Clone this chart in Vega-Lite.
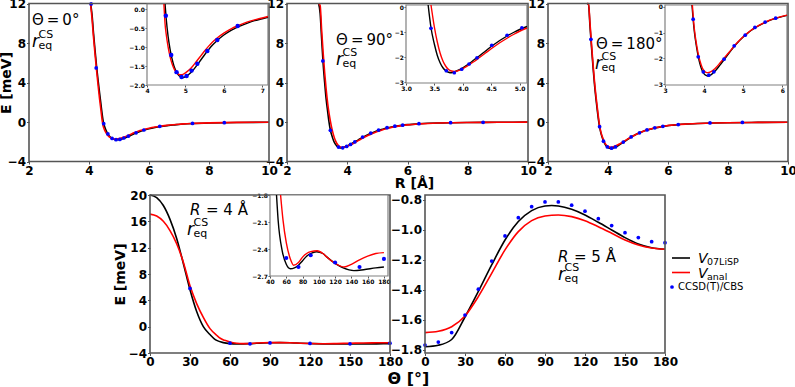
{
"$schema": "https://vega.github.io/schema/vega-lite/v6.json",
"width": 795, "height": 387,
"autosize": {"type": "none"},
"padding": 0,
"datasets": {
"d0": [
{"s":"k","x":4.05,"y":12.9},{"s":"k","x":4.1,"y":10.9},{"s":"k","x":4.15,"y":9.0},{"s":"k","x":4.2,"y":7.3},{"s":"k","x":4.25,"y":5.7},{"s":"k","x":4.3,"y":4.3},{"s":"k","x":4.35,"y":3.0},{"s":"k","x":4.4,"y":1.75},{"s":"k","x":4.45,"y":0.55},{"s":"k","x":4.47,"y":0.14},{"s":"k","x":4.5,"y":-0.25},{"s":"k","x":4.55,"y":-0.72},{"s":"k","x":4.6,"y":-1.05},{"s":"k","x":4.65,"y":-1.3},{"s":"k","x":4.7,"y":-1.49},{"s":"k","x":4.75,"y":-1.62},{"s":"k","x":4.8,"y":-1.71},{"s":"k","x":4.85,"y":-1.77},{"s":"k","x":4.9,"y":-1.8},{"s":"k","x":4.95,"y":-1.8},{"s":"k","x":5.0,"y":-1.78},{"s":"k","x":5.05,"y":-1.75},{"s":"k","x":5.1,"y":-1.71},{"s":"k","x":5.2,"y":-1.61},{"s":"k","x":5.3,"y":-1.48},{"s":"k","x":5.4,"y":-1.34},{"s":"k","x":5.5,"y":-1.2},{"s":"k","x":5.6,"y":-1.07},{"s":"k","x":5.7,"y":-0.95},{"s":"k","x":5.8,"y":-0.85},{"s":"k","x":6.0,"y":-0.68},{"s":"k","x":6.2,"y":-0.55},{"s":"k","x":6.4,"y":-0.45},{"s":"k","x":6.6,"y":-0.37},{"s":"k","x":6.8,"y":-0.3},{"s":"k","x":7.0,"y":-0.25},{"s":"k","x":7.15,"y":-0.21},{"s":"k","x":7.5,"y":-0.15},{"s":"k","x":8.0,"y":-0.1},{"s":"k","x":8.5,"y":-0.07},{"s":"k","x":9.0,"y":-0.05},{"s":"k","x":10.0,"y":-0.02},
{"s":"r","x":4.05,"y":12.6},{"s":"r","x":4.1,"y":10.5},{"s":"r","x":4.15,"y":8.6},{"s":"r","x":4.2,"y":6.9},{"s":"r","x":4.25,"y":5.3},{"s":"r","x":4.3,"y":3.8},{"s":"r","x":4.35,"y":2.4},{"s":"r","x":4.4,"y":1.15},{"s":"r","x":4.44,"y":0.14},{"s":"r","x":4.47,"y":-0.38},{"s":"r","x":4.5,"y":-0.66},{"s":"r","x":4.55,"y":-1.0},{"s":"r","x":4.6,"y":-1.25},{"s":"r","x":4.65,"y":-1.43},{"s":"r","x":4.7,"y":-1.56},{"s":"r","x":4.75,"y":-1.65},{"s":"r","x":4.8,"y":-1.7},{"s":"r","x":4.85,"y":-1.73},{"s":"r","x":4.9,"y":-1.73},{"s":"r","x":4.95,"y":-1.71},{"s":"r","x":5.0,"y":-1.68},{"s":"r","x":5.1,"y":-1.6},{"s":"r","x":5.2,"y":-1.49},{"s":"r","x":5.3,"y":-1.36},{"s":"r","x":5.4,"y":-1.23},{"s":"r","x":5.5,"y":-1.1},{"s":"r","x":5.6,"y":-0.98},{"s":"r","x":5.7,"y":-0.87},{"s":"r","x":5.8,"y":-0.78},{"s":"r","x":6.0,"y":-0.63},{"s":"r","x":6.2,"y":-0.51},{"s":"r","x":6.4,"y":-0.42},{"s":"r","x":6.6,"y":-0.34},{"s":"r","x":6.8,"y":-0.28},{"s":"r","x":7.0,"y":-0.23},{"s":"r","x":7.15,"y":-0.19},{"s":"r","x":7.5,"y":-0.14},{"s":"r","x":8.0,"y":-0.09},{"s":"r","x":8.5,"y":-0.06},{"s":"r","x":9.0,"y":-0.04},{"s":"r","x":10.0,"y":-0.02},
{"s":"p","x":4.07,"y":11.95},{"s":"p","x":4.24,"y":5.47},{"s":"p","x":4.49,"y":-0.17},{"s":"p","x":4.63,"y":-1.21},{"s":"p","x":4.77,"y":-1.66},{"s":"p","x":4.9,"y":-1.79},{"s":"p","x":5.03,"y":-1.76},{"s":"p","x":5.16,"y":-1.62},{"s":"p","x":5.31,"y":-1.44},{"s":"p","x":5.57,"y":-1.1},{"s":"p","x":5.83,"y":-0.81},{"s":"p","x":6.36,"y":-0.44},{"s":"p","x":7.45,"y":-0.15},{"s":"p","x":8.51,"y":-0.07}
],
"d90": [
{"s":"k","x":3.05,"y":13.6},{"s":"k","x":3.1,"y":11.0},{"s":"k","x":3.15,"y":8.4},{"s":"k","x":3.2,"y":5.9},{"s":"k","x":3.25,"y":4.0},{"s":"k","x":3.3,"y":2.3},{"s":"k","x":3.35,"y":1.05},{"s":"k","x":3.39,"y":0.09},{"s":"k","x":3.44,"y":-0.82},{"s":"k","x":3.5,"y":-1.48},{"s":"k","x":3.55,"y":-1.92},{"s":"k","x":3.6,"y":-2.22},{"s":"k","x":3.65,"y":-2.42},{"s":"k","x":3.7,"y":-2.54},{"s":"k","x":3.75,"y":-2.6},{"s":"k","x":3.8,"y":-2.62},{"s":"k","x":3.85,"y":-2.59},{"s":"k","x":3.9,"y":-2.54},{"s":"k","x":4.0,"y":-2.42},{"s":"k","x":4.1,"y":-2.27},{"s":"k","x":4.2,"y":-2.1},{"s":"k","x":4.3,"y":-1.93},{"s":"k","x":4.4,"y":-1.75},{"s":"k","x":4.5,"y":-1.57},{"s":"k","x":4.6,"y":-1.41},{"s":"k","x":4.7,"y":-1.26},{"s":"k","x":4.8,"y":-1.12},{"s":"k","x":4.9,"y":-1.0},{"s":"k","x":5.0,"y":-0.89},{"s":"k","x":5.13,"y":-0.77},{"s":"k","x":5.2,"y":-0.7},{"s":"k","x":5.4,"y":-0.55},{"s":"k","x":5.6,"y":-0.43},{"s":"k","x":5.8,"y":-0.34},{"s":"k","x":6.0,"y":-0.27},{"s":"k","x":6.4,"y":-0.18},{"s":"k","x":7.0,"y":-0.1},{"s":"k","x":7.5,"y":-0.07},{"s":"k","x":8.0,"y":-0.05},{"s":"k","x":9.0,"y":-0.03},{"s":"k","x":10.0,"y":-0.01},
{"s":"r","x":3.05,"y":14.4},{"s":"r","x":3.1,"y":11.8},{"s":"r","x":3.15,"y":9.3},{"s":"r","x":3.2,"y":7.0},{"s":"r","x":3.25,"y":5.0},{"s":"r","x":3.3,"y":3.3},{"s":"r","x":3.35,"y":1.9},{"s":"r","x":3.4,"y":0.8},{"s":"r","x":3.44,"y":0.09},{"s":"r","x":3.5,"y":-0.8},{"s":"r","x":3.55,"y":-1.38},{"s":"r","x":3.6,"y":-1.83},{"s":"r","x":3.65,"y":-2.15},{"s":"r","x":3.7,"y":-2.36},{"s":"r","x":3.75,"y":-2.49},{"s":"r","x":3.8,"y":-2.55},{"s":"r","x":3.85,"y":-2.57},{"s":"r","x":3.9,"y":-2.55},{"s":"r","x":4.0,"y":-2.46},{"s":"r","x":4.1,"y":-2.32},{"s":"r","x":4.2,"y":-2.17},{"s":"r","x":4.3,"y":-2.0},{"s":"r","x":4.4,"y":-1.83},{"s":"r","x":4.5,"y":-1.66},{"s":"r","x":4.6,"y":-1.5},{"s":"r","x":4.7,"y":-1.35},{"s":"r","x":4.8,"y":-1.21},{"s":"r","x":4.9,"y":-1.08},{"s":"r","x":5.0,"y":-0.96},{"s":"r","x":5.13,"y":-0.83},{"s":"r","x":5.2,"y":-0.76},{"s":"r","x":5.4,"y":-0.6},{"s":"r","x":5.6,"y":-0.47},{"s":"r","x":5.8,"y":-0.37},{"s":"r","x":6.0,"y":-0.29},{"s":"r","x":6.4,"y":-0.19},{"s":"r","x":7.0,"y":-0.1},{"s":"r","x":7.5,"y":-0.07},{"s":"r","x":8.0,"y":-0.05},{"s":"r","x":9.0,"y":-0.03},{"s":"r","x":10.0,"y":-0.01},
{"s":"p","x":3.19,"y":6.18},{"s":"p","x":3.44,"y":-0.84},{"s":"p","x":3.71,"y":-2.54},{"s":"p","x":3.85,"y":-2.62},{"s":"p","x":3.98,"y":-2.48},{"s":"p","x":4.11,"y":-2.27},{"s":"p","x":4.25,"y":-2.02},{"s":"p","x":4.51,"y":-1.52},{"s":"p","x":4.78,"y":-1.12},{"s":"p","x":5.04,"y":-0.82},{"s":"p","x":5.32,"y":-0.58},{"s":"p","x":5.58,"y":-0.42},{"s":"p","x":5.84,"y":-0.32},{"s":"p","x":6.38,"y":-0.17},{"s":"p","x":7.43,"y":-0.07},{"s":"p","x":8.51,"y":-0.03}
],
"d180": [
{"s":"k","x":3.3,"y":14.2},{"s":"k","x":3.35,"y":11.9},{"s":"k","x":3.4,"y":9.7},{"s":"k","x":3.45,"y":7.6},{"s":"k","x":3.5,"y":5.6},{"s":"k","x":3.55,"y":3.8},{"s":"k","x":3.6,"y":2.3},{"s":"k","x":3.65,"y":1.0},{"s":"k","x":3.69,"y":0.07},{"s":"k","x":3.72,"y":-0.5},{"s":"k","x":3.75,"y":-0.95},{"s":"k","x":3.8,"y":-1.5},{"s":"k","x":3.85,"y":-1.93},{"s":"k","x":3.9,"y":-2.25},{"s":"k","x":3.95,"y":-2.47},{"s":"k","x":4.0,"y":-2.6},{"s":"k","x":4.05,"y":-2.66},{"s":"k","x":4.1,"y":-2.68},{"s":"k","x":4.15,"y":-2.66},{"s":"k","x":4.2,"y":-2.61},{"s":"k","x":4.25,"y":-2.54},{"s":"k","x":4.3,"y":-2.46},{"s":"k","x":4.4,"y":-2.27},{"s":"k","x":4.5,"y":-2.07},{"s":"k","x":4.6,"y":-1.87},{"s":"k","x":4.7,"y":-1.67},{"s":"k","x":4.8,"y":-1.48},{"s":"k","x":4.9,"y":-1.32},{"s":"k","x":5.0,"y":-1.17},{"s":"k","x":5.1,"y":-1.04},{"s":"k","x":5.2,"y":-0.92},{"s":"k","x":5.3,"y":-0.82},{"s":"k","x":5.4,"y":-0.73},{"s":"k","x":5.5,"y":-0.65},{"s":"k","x":5.6,"y":-0.58},{"s":"k","x":5.75,"y":-0.49},{"s":"k","x":5.9,"y":-0.42},{"s":"k","x":6.12,"y":-0.33},{"s":"k","x":6.3,"y":-0.28},{"s":"k","x":6.6,"y":-0.21},{"s":"k","x":7.0,"y":-0.15},{"s":"k","x":7.5,"y":-0.1},{"s":"k","x":8.0,"y":-0.07},{"s":"k","x":9.0,"y":-0.04},{"s":"k","x":10.0,"y":-0.02},
{"s":"r","x":3.3,"y":14.5},{"s":"r","x":3.35,"y":12.2},{"s":"r","x":3.4,"y":10.0},{"s":"r","x":3.45,"y":7.9},{"s":"r","x":3.5,"y":5.9},{"s":"r","x":3.55,"y":4.1},{"s":"r","x":3.6,"y":2.6},{"s":"r","x":3.65,"y":1.3},{"s":"r","x":3.7,"y":0.07},{"s":"r","x":3.72,"y":-0.35},{"s":"r","x":3.75,"y":-0.85},{"s":"r","x":3.8,"y":-1.4},{"s":"r","x":3.85,"y":-1.82},{"s":"r","x":3.9,"y":-2.13},{"s":"r","x":3.95,"y":-2.35},{"s":"r","x":4.0,"y":-2.48},{"s":"r","x":4.05,"y":-2.54},{"s":"r","x":4.1,"y":-2.55},{"s":"r","x":4.15,"y":-2.53},{"s":"r","x":4.2,"y":-2.49},{"s":"r","x":4.25,"y":-2.43},{"s":"r","x":4.3,"y":-2.36},{"s":"r","x":4.4,"y":-2.19},{"s":"r","x":4.5,"y":-2.01},{"s":"r","x":4.6,"y":-1.83},{"s":"r","x":4.7,"y":-1.65},{"s":"r","x":4.8,"y":-1.47},{"s":"r","x":4.9,"y":-1.31},{"s":"r","x":5.0,"y":-1.16},{"s":"r","x":5.1,"y":-1.03},{"s":"r","x":5.2,"y":-0.91},{"s":"r","x":5.3,"y":-0.81},{"s":"r","x":5.4,"y":-0.72},{"s":"r","x":5.5,"y":-0.64},{"s":"r","x":5.6,"y":-0.57},{"s":"r","x":5.75,"y":-0.48},{"s":"r","x":5.9,"y":-0.41},{"s":"r","x":6.12,"y":-0.32},{"s":"r","x":6.3,"y":-0.27},{"s":"r","x":6.6,"y":-0.21},{"s":"r","x":7.0,"y":-0.15},{"s":"r","x":7.5,"y":-0.1},{"s":"r","x":8.0,"y":-0.07},{"s":"r","x":9.0,"y":-0.04},{"s":"r","x":10.0,"y":-0.02},
{"s":"p","x":3.43,"y":8.37},{"s":"p","x":3.72,"y":-0.48},{"s":"p","x":3.85,"y":-1.94},{"s":"p","x":3.98,"y":-2.52},{"s":"p","x":4.12,"y":-2.65},{"s":"p","x":4.25,"y":-2.52},{"s":"p","x":4.51,"y":-2.03},{"s":"p","x":4.77,"y":-1.51},{"s":"p","x":5.05,"y":-1.1},{"s":"p","x":5.3,"y":-0.8},{"s":"p","x":5.56,"y":-0.59},{"s":"p","x":5.83,"y":-0.44},{"s":"p","x":6.34,"y":-0.26},{"s":"p","x":7.4,"y":-0.09},{"s":"p","x":8.48,"y":-0.04}
],
"dA": [
{"s":"k","x":0,"y":20.0},{"s":"k","x":5,"y":19.6},{"s":"k","x":10,"y":18.4},{"s":"k","x":15,"y":16.3},{"s":"k","x":20,"y":13.4},{"s":"k","x":25,"y":9.6},{"s":"k","x":30,"y":5.6},{"s":"k","x":35,"y":2.3},{"s":"k","x":40,"y":0.0},{"s":"k","x":45,"y":-1.2},{"s":"k","x":48,"y":-1.8},{"s":"k","x":50,"y":-2.08},{"s":"k","x":55,"y":-2.42},{"s":"k","x":60,"y":-2.57},{"s":"k","x":65,"y":-2.62},{"s":"k","x":70,"y":-2.61},{"s":"k","x":75,"y":-2.58},{"s":"k","x":80,"y":-2.53},{"s":"k","x":85,"y":-2.48},{"s":"k","x":90,"y":-2.45},{"s":"k","x":97,"y":-2.43},{"s":"k","x":105,"y":-2.45},{"s":"k","x":110,"y":-2.49},{"s":"k","x":120,"y":-2.56},{"s":"k","x":130,"y":-2.61},{"s":"k","x":143,"y":-2.64},{"s":"k","x":155,"y":-2.63},{"s":"k","x":170,"y":-2.61},{"s":"k","x":180,"y":-2.6},
{"s":"r","x":0,"y":17.1},{"s":"r","x":5,"y":16.8},{"s":"r","x":10,"y":16.0},{"s":"r","x":15,"y":14.6},{"s":"r","x":20,"y":12.6},{"s":"r","x":25,"y":9.8},{"s":"r","x":30,"y":6.2},{"s":"r","x":35,"y":3.5},{"s":"r","x":40,"y":1.4},{"s":"r","x":45,"y":-0.3},{"s":"r","x":50,"y":-1.3},{"s":"r","x":53,"y":-1.8},{"s":"r","x":56,"y":-2.08},{"s":"r","x":60,"y":-2.33},{"s":"r","x":65,"y":-2.51},{"s":"r","x":69,"y":-2.58},{"s":"r","x":75,"y":-2.55},{"s":"r","x":80,"y":-2.49},{"s":"r","x":85,"y":-2.45},{"s":"r","x":90,"y":-2.43},{"s":"r","x":98,"y":-2.42},{"s":"r","x":105,"y":-2.45},{"s":"r","x":110,"y":-2.49},{"s":"r","x":120,"y":-2.56},{"s":"r","x":131,"y":-2.6},{"s":"r","x":140,"y":-2.57},{"s":"r","x":150,"y":-2.52},{"s":"r","x":160,"y":-2.48},{"s":"r","x":170,"y":-2.45},{"s":"r","x":180,"y":-2.44},
{"s":"p","x":30,"y":5.8},{"s":"p","x":60,"y":-2.5},{"s":"p","x":75,"y":-2.6},{"s":"p","x":90,"y":-2.47},{"s":"p","x":120,"y":-2.55},{"s":"p","x":150,"y":-2.6},{"s":"p","x":180,"y":-2.51}
],
"dB": [
{"s":"k","x":0,"y":-1.778},{"s":"k","x":10,"y":-1.768},{"s":"k","x":20,"y":-1.73},{"s":"k","x":30,"y":-1.58},{"s":"k","x":40,"y":-1.41},{"s":"k","x":50,"y":-1.233},{"s":"k","x":60,"y":-1.067},{"s":"k","x":70,"y":-0.944},{"s":"k","x":80,"y":-0.871},{"s":"k","x":90,"y":-0.84},{"s":"k","x":95,"y":-0.837},{"s":"k","x":100,"y":-0.84},{"s":"k","x":110,"y":-0.862},{"s":"k","x":120,"y":-0.9},{"s":"k","x":130,"y":-0.949},{"s":"k","x":140,"y":-1.0},{"s":"k","x":150,"y":-1.051},{"s":"k","x":160,"y":-1.093},{"s":"k","x":170,"y":-1.118},{"s":"k","x":180,"y":-1.129},
{"s":"r","x":0,"y":-1.684},{"s":"r","x":10,"y":-1.675},{"s":"r","x":20,"y":-1.645},{"s":"r","x":30,"y":-1.573},{"s":"r","x":40,"y":-1.444},{"s":"r","x":50,"y":-1.289},{"s":"r","x":60,"y":-1.133},{"s":"r","x":70,"y":-1.011},{"s":"r","x":80,"y":-0.938},{"s":"r","x":90,"y":-0.907},{"s":"r","x":100,"y":-0.9},{"s":"r","x":110,"y":-0.911},{"s":"r","x":120,"y":-0.938},{"s":"r","x":130,"y":-0.978},{"s":"r","x":140,"y":-1.022},{"s":"r","x":150,"y":-1.067},{"s":"r","x":160,"y":-1.1},{"s":"r","x":170,"y":-1.12},{"s":"r","x":180,"y":-1.129},
{"s":"p","x":0,"y":-1.767},{"s":"p","x":10,"y":-1.747},{"s":"p","x":20,"y":-1.684},{"s":"p","x":30,"y":-1.567},{"s":"p","x":40,"y":-1.395},{"s":"p","x":50,"y":-1.207},{"s":"p","x":60,"y":-1.04},{"s":"p","x":70,"y":-0.918},{"s":"p","x":80,"y":-0.845},{"s":"p","x":90,"y":-0.813},{"s":"p","x":100,"y":-0.813},{"s":"p","x":110,"y":-0.835},{"s":"p","x":120,"y":-0.875},{"s":"p","x":130,"y":-0.925},{"s":"p","x":140,"y":-0.971},{"s":"p","x":150,"y":-1.018},{"s":"p","x":160,"y":-1.051},{"s":"p","x":170,"y":-1.078},{"s":"p","x":180,"y":-1.085}
]
},
"resolve": {"scale": {"x": "independent", "y": "independent", "color": "independent"}},
"layer": [
{"data": {"name": "d0"}, "layer": [
{"transform": [{"filter": "datum.s == 'k'"}], "mark": {"type": "line", "color": "#000000", "strokeWidth": 1.6, "interpolate": "monotone"},
 "encoding": {"x": {"field": "x", "type": "quantitative", "scale": {"domain": [2, 10], "range": [29, 269], "nice": false, "zero": false}, "axis": {"orient": "bottom", "offset": -225.5, "values": [2, 4, 6, 8, 10], "format": "d", "title": null}},
  "y": {"field": "y", "type": "quantitative", "scale": {"domain": [-4, 12], "range": [161.5, 3.5], "nice": false, "zero": false, "clamp": true}, "axis": {"orient": "left", "offset": -29, "values": [-4, 0, 4, 8, 12], "format": "d", "title": "E [meV]", "titleX": -16}}}},
{"transform": [{"filter": "datum.s == 'r'"}], "mark": {"type": "line", "color": "#ff0000", "strokeWidth": 1.6, "interpolate": "monotone"},
 "encoding": {"x": {"field": "x", "type": "quantitative"}, "y": {"field": "y", "type": "quantitative"}}},
{"transform": [{"filter": "datum.s == 'p'"}], "mark": {"type": "circle", "color": "#0000ff", "size": 14, "opacity": 1},
 "encoding": {"x": {"field": "x", "type": "quantitative"}, "y": {"field": "y", "type": "quantitative"}}},
{"data": {"values": [{}]}, "mark": {"type": "text", "text": "Θ\u2009=\u20090°", "fontSize": 15, "align": "left", "baseline": "alphabetic", "color": "#000000"},
 "encoding": {"x": {"datum": 2.1, "type": "quantitative"}, "y": {"datum": 9.82, "type": "quantitative"}}},
{"data": {"values": [{}]}, "mark": {"type": "text", "text": "r", "fontSize": 17, "fontStyle": "italic", "align": "left", "baseline": "alphabetic", "color": "#000000"},
 "encoding": {"x": {"datum": 2.1, "type": "quantitative"}, "y": {"datum": 7.6, "type": "quantitative"}}},
{"data": {"values": [{}]}, "mark": {"type": "text", "text": "eq", "fontSize": 11, "align": "left", "baseline": "alphabetic", "dx": 6.5, "dy": 2, "color": "#000000"},
 "encoding": {"x": {"datum": 2.1, "type": "quantitative"}, "y": {"datum": 7.6, "type": "quantitative"}}},
{"data": {"values": [{}]}, "mark": {"type": "text", "text": "CS", "fontSize": 11, "align": "left", "baseline": "alphabetic", "dx": 6.5, "dy": -9, "color": "#000000"},
 "encoding": {"x": {"datum": 2.1, "type": "quantitative"}, "y": {"datum": 7.6, "type": "quantitative"}}},
{"data": {"values": [{}]}, "mark": {"type": "rect", "fill": "transparent", "stroke": "#555555", "strokeWidth": 1.6},
 "encoding": {"x": {"datum": 2, "type": "quantitative"}, "x2": {"datum": 10}, "y": {"datum": -4, "type": "quantitative"}, "y2": {"datum": 12}}}
]},
{"data": {"name": "d0"}, "layer": [
{"data": {"values": [{}]}, "mark": {"type": "rect", "fill": "#ffffff", "stroke": "#808080", "strokeWidth": 1.2},
 "encoding": {"x": {"datum": 4, "type": "quantitative", "scale": {"domain": [4, 7.15], "range": [147, 268], "nice": false, "zero": false}, "axis": {"orient": "bottom", "offset": -302, "values": [4, 5, 6, 7], "format": "d", "labelFontSize": 6, "tickSize": 2, "labelPadding": 0.5, "title": null}},
  "x2": {"datum": 7.15},
  "y": {"datum": -2, "type": "quantitative", "scale": {"domain": [-2, 0.14], "range": [85, 4], "nice": false, "zero": false}, "axis": {"orient": "left", "offset": -147, "values": [-2, -1.5, -1, -0.5, 0], "format": ".1f", "labelFontSize": 6, "tickSize": 2, "labelPadding": 0.5, "title": null}},
  "y2": {"datum": 0.14}}},
{"transform": [{"filter": "datum.s == 'k' && datum.x >= 4 && datum.x <= 7.15 && datum.y <= 0.14"}], "mark": {"type": "line", "color": "#000000", "strokeWidth": 1.4, "interpolate": "monotone"},
 "encoding": {"x": {"field": "x", "type": "quantitative"}, "y": {"field": "y", "type": "quantitative"}}},
{"transform": [{"filter": "datum.s == 'r' && datum.x >= 4 && datum.x <= 7.15 && datum.y <= 0.14"}], "mark": {"type": "line", "color": "#ff0000", "strokeWidth": 1.4, "interpolate": "monotone"},
 "encoding": {"x": {"field": "x", "type": "quantitative"}, "y": {"field": "y", "type": "quantitative"}}},
{"transform": [{"filter": "datum.s == 'p' && datum.x >= 4 && datum.x <= 7.15 && datum.y <= 0.14"}], "mark": {"type": "circle", "color": "#0000ff", "size": 20, "opacity": 1},
 "encoding": {"x": {"field": "x", "type": "quantitative"}, "y": {"field": "y", "type": "quantitative"}}}
]},
{"data": {"name": "d90"}, "layer": [
{"transform": [{"filter": "datum.s == 'k'"}], "mark": {"type": "line", "color": "#000000", "strokeWidth": 1.6, "interpolate": "monotone"},
 "encoding": {"x": {"field": "x", "type": "quantitative", "scale": {"domain": [2, 10], "range": [287, 528], "nice": false, "zero": false}, "axis": {"orient": "bottom", "offset": -225.5, "values": [2, 4, 6, 8, 10], "format": "d", "title": "R [Å]", "titleX": 414, "titleY": 14.5, "titleBaseline": "top", "titleAlign": "center"}},
  "y": {"field": "y", "type": "quantitative", "scale": {"domain": [-4, 12], "range": [161.5, 3.5], "nice": false, "zero": false, "clamp": true}, "axis": {"orient": "left", "offset": -287, "values": [-4, 0, 4, 8, 12], "format": "d", "title": null}}}},
{"transform": [{"filter": "datum.s == 'r'"}], "mark": {"type": "line", "color": "#ff0000", "strokeWidth": 1.6, "interpolate": "monotone"},
 "encoding": {"x": {"field": "x", "type": "quantitative"}, "y": {"field": "y", "type": "quantitative"}}},
{"transform": [{"filter": "datum.s == 'p'"}], "mark": {"type": "circle", "color": "#0000ff", "size": 14, "opacity": 1},
 "encoding": {"x": {"field": "x", "type": "quantitative"}, "y": {"field": "y", "type": "quantitative"}}},
{"data": {"values": [{}]}, "mark": {"type": "text", "text": "Θ\u2009=\u200990°", "fontSize": 15, "align": "left", "baseline": "alphabetic", "color": "#000000"},
 "encoding": {"x": {"datum": 3.63, "type": "quantitative"}, "y": {"datum": 7.8, "type": "quantitative"}}},
{"data": {"values": [{}]}, "mark": {"type": "text", "text": "r", "fontSize": 17, "fontStyle": "italic", "align": "left", "baseline": "alphabetic", "color": "#000000"},
 "encoding": {"x": {"datum": 3.63, "type": "quantitative"}, "y": {"datum": 5.77, "type": "quantitative"}}},
{"data": {"values": [{}]}, "mark": {"type": "text", "text": "eq", "fontSize": 11, "align": "left", "baseline": "alphabetic", "dx": 6.5, "dy": 2, "color": "#000000"},
 "encoding": {"x": {"datum": 3.63, "type": "quantitative"}, "y": {"datum": 5.77, "type": "quantitative"}}},
{"data": {"values": [{}]}, "mark": {"type": "text", "text": "CS", "fontSize": 11, "align": "left", "baseline": "alphabetic", "dx": 6.5, "dy": -9, "color": "#000000"},
 "encoding": {"x": {"datum": 3.63, "type": "quantitative"}, "y": {"datum": 5.77, "type": "quantitative"}}},
{"data": {"values": [{}]}, "mark": {"type": "rect", "fill": "transparent", "stroke": "#555555", "strokeWidth": 1.6},
 "encoding": {"x": {"datum": 2, "type": "quantitative"}, "x2": {"datum": 10}, "y": {"datum": -4, "type": "quantitative"}, "y2": {"datum": 12}}}
]},
{"data": {"name": "d90"}, "layer": [
{"data": {"values": [{}]}, "mark": {"type": "rect", "fill": "#ffffff", "stroke": "#808080", "strokeWidth": 1.2},
 "encoding": {"x": {"datum": 3, "type": "quantitative", "scale": {"domain": [3, 5.13], "range": [406, 527], "nice": false, "zero": false}, "axis": {"orient": "bottom", "offset": -304, "values": [3, 3.5, 4, 4.5, 5], "format": ".1f", "labelFontSize": 6, "tickSize": 2, "labelPadding": 0.5, "title": null}},
  "x2": {"datum": 5.13},
  "y": {"datum": -3.03, "type": "quantitative", "scale": {"domain": [-3.03, 0.09], "range": [83, 5], "nice": false, "zero": false}, "axis": {"orient": "left", "offset": -406, "values": [-3, -2, -1, 0], "format": "d", "labelFontSize": 6, "tickSize": 2, "labelPadding": 0.5, "title": null}},
  "y2": {"datum": 0.09}}},
{"transform": [{"filter": "datum.s == 'k' && datum.x >= 3 && datum.x <= 5.13 && datum.y <= 0.09"}], "mark": {"type": "line", "color": "#000000", "strokeWidth": 1.4, "interpolate": "monotone"},
 "encoding": {"x": {"field": "x", "type": "quantitative"}, "y": {"field": "y", "type": "quantitative"}}},
{"transform": [{"filter": "datum.s == 'r' && datum.x >= 3 && datum.x <= 5.13 && datum.y <= 0.09"}], "mark": {"type": "line", "color": "#ff0000", "strokeWidth": 1.4, "interpolate": "monotone"},
 "encoding": {"x": {"field": "x", "type": "quantitative"}, "y": {"field": "y", "type": "quantitative"}}},
{"transform": [{"filter": "datum.s == 'p' && datum.x >= 3 && datum.x <= 5.13 && datum.y <= 0.09"}], "mark": {"type": "circle", "color": "#0000ff", "size": 14, "opacity": 1},
 "encoding": {"x": {"field": "x", "type": "quantitative"}, "y": {"field": "y", "type": "quantitative"}}}
]},
{"data": {"name": "d180"}, "layer": [
{"transform": [{"filter": "datum.s == 'k'"}], "mark": {"type": "line", "color": "#000000", "strokeWidth": 1.6, "interpolate": "monotone"},
 "encoding": {"x": {"field": "x", "type": "quantitative", "scale": {"domain": [2, 10], "range": [548, 788], "nice": false, "zero": false}, "axis": {"orient": "bottom", "offset": -225.5, "values": [2, 4, 6, 8, 10], "format": "d", "title": null}},
  "y": {"field": "y", "type": "quantitative", "scale": {"domain": [-4, 12], "range": [161.5, 3.5], "nice": false, "zero": false, "clamp": true}, "axis": {"orient": "left", "offset": -548, "values": [-4, 0, 4, 8, 12], "format": "d", "title": null}}}},
{"transform": [{"filter": "datum.s == 'r'"}], "mark": {"type": "line", "color": "#ff0000", "strokeWidth": 1.6, "interpolate": "monotone"},
 "encoding": {"x": {"field": "x", "type": "quantitative"}, "y": {"field": "y", "type": "quantitative"}}},
{"transform": [{"filter": "datum.s == 'p'"}], "mark": {"type": "circle", "color": "#0000ff", "size": 14, "opacity": 1},
 "encoding": {"x": {"field": "x", "type": "quantitative"}, "y": {"field": "y", "type": "quantitative"}}},
{"data": {"values": [{}]}, "mark": {"type": "text", "text": "Θ\u2009=\u2009180°", "fontSize": 15, "align": "left", "baseline": "alphabetic", "color": "#000000"},
 "encoding": {"x": {"datum": 3.6, "type": "quantitative"}, "y": {"datum": 7.39, "type": "quantitative"}}},
{"data": {"values": [{}]}, "mark": {"type": "text", "text": "r", "fontSize": 17, "fontStyle": "italic", "align": "left", "baseline": "alphabetic", "color": "#000000"},
 "encoding": {"x": {"datum": 3.57, "type": "quantitative"}, "y": {"datum": 5.37, "type": "quantitative"}}},
{"data": {"values": [{}]}, "mark": {"type": "text", "text": "eq", "fontSize": 11, "align": "left", "baseline": "alphabetic", "dx": 6.5, "dy": 2, "color": "#000000"},
 "encoding": {"x": {"datum": 3.57, "type": "quantitative"}, "y": {"datum": 5.37, "type": "quantitative"}}},
{"data": {"values": [{}]}, "mark": {"type": "text", "text": "CS", "fontSize": 11, "align": "left", "baseline": "alphabetic", "dx": 6.5, "dy": -9, "color": "#000000"},
 "encoding": {"x": {"datum": 3.57, "type": "quantitative"}, "y": {"datum": 5.37, "type": "quantitative"}}},
{"data": {"values": [{}]}, "mark": {"type": "rect", "fill": "transparent", "stroke": "#555555", "strokeWidth": 1.6},
 "encoding": {"x": {"datum": 2, "type": "quantitative"}, "x2": {"datum": 10}, "y": {"datum": -4, "type": "quantitative"}, "y2": {"datum": 12}}}
]},
{"data": {"name": "d180"}, "layer": [
{"data": {"values": [{}]}, "mark": {"type": "rect", "fill": "#ffffff", "stroke": "#808080", "strokeWidth": 1.2},
 "encoding": {"x": {"datum": 3, "type": "quantitative", "scale": {"domain": [3, 6.12], "range": [665, 787], "nice": false, "zero": false}, "axis": {"orient": "bottom", "offset": -302, "values": [3, 4, 5, 6], "format": "d", "labelFontSize": 6, "tickSize": 2, "labelPadding": 0.5, "title": null}},
  "x2": {"datum": 6.12},
  "y": {"datum": -3.03, "type": "quantitative", "scale": {"domain": [-3.03, 0.07], "range": [85, 5], "nice": false, "zero": false}, "axis": {"orient": "left", "offset": -665, "values": [-3, -2, -1, 0], "format": "d", "labelFontSize": 6, "tickSize": 2, "labelPadding": 0.5, "title": null}},
  "y2": {"datum": 0.07}}},
{"transform": [{"filter": "datum.s == 'k' && datum.x >= 3 && datum.x <= 6.12 && datum.y <= 0.07"}], "mark": {"type": "line", "color": "#000000", "strokeWidth": 1.4, "interpolate": "monotone"},
 "encoding": {"x": {"field": "x", "type": "quantitative"}, "y": {"field": "y", "type": "quantitative"}}},
{"transform": [{"filter": "datum.s == 'r' && datum.x >= 3 && datum.x <= 6.12 && datum.y <= 0.07"}], "mark": {"type": "line", "color": "#ff0000", "strokeWidth": 1.4, "interpolate": "monotone"},
 "encoding": {"x": {"field": "x", "type": "quantitative"}, "y": {"field": "y", "type": "quantitative"}}},
{"transform": [{"filter": "datum.s == 'p' && datum.x >= 3 && datum.x <= 6.12 && datum.y <= 0.07"}], "mark": {"type": "circle", "color": "#0000ff", "size": 14, "opacity": 1},
 "encoding": {"x": {"field": "x", "type": "quantitative"}, "y": {"field": "y", "type": "quantitative"}}}
]},
{"data": {"name": "dA"}, "layer": [
{"transform": [{"filter": "datum.s == 'k'"}], "mark": {"type": "line", "color": "#000000", "strokeWidth": 1.6, "interpolate": "monotone"},
 "encoding": {"x": {"field": "x", "type": "quantitative", "scale": {"domain": [0, 180], "range": [150, 390], "nice": false, "zero": false}, "axis": {"orient": "bottom", "offset": -34, "values": [0, 30, 60, 90, 120, 150, 180], "format": "d", "title": "Θ [°]", "titleFontSize": 16, "titleX": 408, "titleY": 17, "titleBaseline": "top", "titleAlign": "center"}},
  "y": {"field": "y", "type": "quantitative", "scale": {"domain": [-4, 20], "range": [353, 195], "nice": false, "zero": false, "clamp": true}, "axis": {"orient": "left", "offset": -150, "values": [-4, 0, 4, 8, 12, 16, 20], "format": "d", "title": "E [meV]", "titleX": -23}}}},
{"transform": [{"filter": "datum.s == 'r'"}], "mark": {"type": "line", "color": "#ff0000", "strokeWidth": 1.6, "interpolate": "monotone"},
 "encoding": {"x": {"field": "x", "type": "quantitative"}, "y": {"field": "y", "type": "quantitative"}}},
{"transform": [{"filter": "datum.s == 'p'"}], "mark": {"type": "circle", "color": "#0000ff", "size": 14, "opacity": 1},
 "encoding": {"x": {"field": "x", "type": "quantitative"}, "y": {"field": "y", "type": "quantitative"}}},
{"data": {"values": [{}]}, "mark": {"type": "text", "text": "R", "fontSize": 15, "fontStyle": "italic", "align": "left", "baseline": "alphabetic", "color": "#000000"},
 "encoding": {"x": {"datum": 30, "type": "quantitative"}, "y": {"datum": 16.96, "type": "quantitative"}}},
{"data": {"values": [{}]}, "mark": {"type": "text", "text": "= 4 Å", "fontSize": 15, "align": "left", "baseline": "alphabetic", "dx": 16, "color": "#000000"},
 "encoding": {"x": {"datum": 30, "type": "quantitative"}, "y": {"datum": 16.96, "type": "quantitative"}}},
{"data": {"values": [{}]}, "mark": {"type": "text", "text": "r", "fontSize": 17, "fontStyle": "italic", "align": "left", "baseline": "alphabetic", "color": "#000000"},
 "encoding": {"x": {"datum": 27.75, "type": "quantitative"}, "y": {"datum": 13.92, "type": "quantitative"}}},
{"data": {"values": [{}]}, "mark": {"type": "text", "text": "eq", "fontSize": 11, "align": "left", "baseline": "alphabetic", "dx": 6.5, "dy": 2, "color": "#000000"},
 "encoding": {"x": {"datum": 27.75, "type": "quantitative"}, "y": {"datum": 13.92, "type": "quantitative"}}},
{"data": {"values": [{}]}, "mark": {"type": "text", "text": "CS", "fontSize": 11, "align": "left", "baseline": "alphabetic", "dx": 6.5, "dy": -9, "color": "#000000"},
 "encoding": {"x": {"datum": 27.75, "type": "quantitative"}, "y": {"datum": 13.92, "type": "quantitative"}}},
{"data": {"values": [{}]}, "mark": {"type": "rect", "fill": "transparent", "stroke": "#555555", "strokeWidth": 1.6},
 "encoding": {"x": {"datum": 0, "type": "quantitative"}, "x2": {"datum": 180}, "y": {"datum": -4, "type": "quantitative"}, "y2": {"datum": 20}}}
]},
{"data": {"name": "dA"}, "layer": [
{"data": {"values": [{}]}, "mark": {"type": "rect", "fill": "#ffffff", "stroke": "#808080", "strokeWidth": 1.2},
 "encoding": {"x": {"datum": 40, "type": "quantitative", "scale": {"domain": [40, 185], "range": [270, 388], "nice": false, "zero": false}, "axis": {"orient": "bottom", "offset": -111, "values": [40, 60, 80, 100, 120, 140, 160, 180], "format": "d", "labelFontSize": 6, "tickSize": 2, "labelPadding": 0.5, "title": null}},
  "x2": {"datum": 185},
  "y": {"datum": -2.7, "type": "quantitative", "scale": {"domain": [-2.7, -1.8], "range": [276, 195], "nice": false, "zero": false}, "axis": {"orient": "left", "offset": -270, "values": [-2.7, -2.4, -2.1, -1.8], "format": ".1f", "labelFontSize": 6, "tickSize": 2, "labelPadding": 0.5, "title": null}},
  "y2": {"datum": -1.8}}},
{"transform": [{"filter": "datum.s == 'k' && datum.x >= 40 && datum.y <= -1.8"}], "mark": {"type": "line", "color": "#000000", "strokeWidth": 1.4, "interpolate": "monotone"},
 "encoding": {"x": {"field": "x", "type": "quantitative"}, "y": {"field": "y", "type": "quantitative"}}},
{"transform": [{"filter": "datum.s == 'r' && datum.x >= 40 && datum.y <= -1.8"}], "mark": {"type": "line", "color": "#ff0000", "strokeWidth": 1.4, "interpolate": "monotone"},
 "encoding": {"x": {"field": "x", "type": "quantitative"}, "y": {"field": "y", "type": "quantitative"}}},
{"transform": [{"filter": "datum.s == 'p' && datum.x >= 40 && datum.y <= -1.8"}], "mark": {"type": "circle", "color": "#0000ff", "size": 17, "opacity": 1},
 "encoding": {"x": {"field": "x", "type": "quantitative"}, "y": {"field": "y", "type": "quantitative"}}}
]},
{"data": {"name": "dB"}, "layer": [
{"transform": [{"filter": "datum.s == 'k'"}], "mark": {"type": "line", "color": "#000000", "strokeWidth": 1.6, "interpolate": "monotone"},
 "encoding": {"x": {"field": "x", "type": "quantitative", "scale": {"domain": [0, 180], "range": [425, 665], "nice": false, "zero": false}, "axis": {"orient": "bottom", "offset": -34, "values": [0, 30, 60, 90, 120, 150, 180], "format": "d", "title": null}},
  "y": {"field": "y", "type": "quantitative", "scale": {"domain": [-1.82, -0.767], "range": [353, 195], "nice": false, "zero": false}, "axis": {"orient": "left", "offset": -425, "values": [-1.8, -1.6, -1.4, -1.2, -1.0, -0.8], "format": ".1f", "title": null}}}},
{"transform": [{"filter": "datum.s == 'r'"}], "mark": {"type": "line", "color": "#ff0000", "strokeWidth": 1.6, "interpolate": "monotone"},
 "encoding": {"x": {"field": "x", "type": "quantitative"}, "y": {"field": "y", "type": "quantitative"}}},
{"transform": [{"filter": "datum.s == 'p'"}], "mark": {"type": "circle", "color": "#0000ff", "size": 14, "opacity": 1},
 "encoding": {"x": {"field": "x", "type": "quantitative"}, "y": {"field": "y", "type": "quantitative"}}},
{"data": {"values": [{}]}, "mark": {"type": "text", "text": "R", "fontSize": 15, "fontStyle": "italic", "align": "left", "baseline": "alphabetic", "color": "#000000"},
 "encoding": {"x": {"datum": 99.75, "type": "quantitative"}, "y": {"datum": -1.213, "type": "quantitative"}}},
{"data": {"values": [{}]}, "mark": {"type": "text", "text": "= 5 Å", "fontSize": 15, "align": "left", "baseline": "alphabetic", "dx": 16, "color": "#000000"},
 "encoding": {"x": {"datum": 99.75, "type": "quantitative"}, "y": {"datum": -1.213, "type": "quantitative"}}},
{"data": {"values": [{}]}, "mark": {"type": "text", "text": "r", "fontSize": 17, "fontStyle": "italic", "align": "left", "baseline": "alphabetic", "color": "#000000"},
 "encoding": {"x": {"datum": 99.75, "type": "quantitative"}, "y": {"datum": -1.333, "type": "quantitative"}}},
{"data": {"values": [{}]}, "mark": {"type": "text", "text": "eq", "fontSize": 11, "align": "left", "baseline": "alphabetic", "dx": 6.5, "dy": 2, "color": "#000000"},
 "encoding": {"x": {"datum": 99.75, "type": "quantitative"}, "y": {"datum": -1.333, "type": "quantitative"}}},
{"data": {"values": [{}]}, "mark": {"type": "text", "text": "CS", "fontSize": 11, "align": "left", "baseline": "alphabetic", "dx": 6.5, "dy": -9, "color": "#000000"},
 "encoding": {"x": {"datum": 99.75, "type": "quantitative"}, "y": {"datum": -1.333, "type": "quantitative"}}},
{"data": {"values": [{}]}, "mark": {"type": "rect", "fill": "transparent", "stroke": "#555555", "strokeWidth": 1.6},
 "encoding": {"x": {"datum": 0, "type": "quantitative"}, "x2": {"datum": 180}, "y": {"datum": -1.82, "type": "quantitative"}, "y2": {"datum": -0.767}}}
]},
{"data": {"values": [{"s": "V07LiSP", "m": "V", "sub": "07LiSP"}, {"s": "Vanal", "m": "V", "sub": "anal"}, {"s": "CCSD(T)/CBS", "m": "", "sub": ""}]},
 "layer": [
{"transform": [{"filter": "datum.s != 'CCSD(T)/CBS'"}], "mark": {"type": "rule", "strokeWidth": 1.6},
 "encoding": {"x": {"datum": 2, "type": "quantitative", "scale": {"domain": [0, 120], "range": [670, 790], "nice": false, "zero": false}, "axis": null},
  "x2": {"datum": 20},
  "y": {"field": "s", "type": "nominal", "sort": null, "scale": {"type": "point", "domain": ["V07LiSP", "Vanal", "CCSD(T)/CBS"], "range": [258, 287], "padding": 0}, "axis": null},
  "color": {"field": "s", "type": "nominal", "scale": {"domain": ["V07LiSP", "Vanal", "CCSD(T)/CBS"], "range": ["#000000", "#ff0000", "#0000ff"]}, "legend": null}}},
{"transform": [{"filter": "datum.s != 'CCSD(T)/CBS'"}], "mark": {"type": "text", "fontSize": 14, "fontStyle": "italic", "align": "left", "baseline": "alphabetic", "dy": 5, "color": "#000000"},
 "encoding": {"x": {"datum": 28, "type": "quantitative"}, "y": {"field": "s", "type": "nominal"}, "text": {"field": "m"}}},
{"transform": [{"filter": "datum.s != 'CCSD(T)/CBS'"}], "mark": {"type": "text", "fontSize": 9.5, "align": "left", "baseline": "alphabetic", "dx": 9, "dy": 7, "color": "#000000"},
 "encoding": {"x": {"datum": 28, "type": "quantitative"}, "y": {"field": "s", "type": "nominal"}, "text": {"field": "sub"}}},
{"transform": [{"filter": "datum.s == 'CCSD(T)/CBS'"}], "mark": {"type": "circle", "size": 14, "opacity": 1, "color": "#0000ff"},
 "encoding": {"x": {"datum": 2, "type": "quantitative"}, "y": {"field": "s", "type": "nominal"}}},
{"transform": [{"filter": "datum.s == 'CCSD(T)/CBS'"}], "mark": {"type": "text", "fontSize": 10, "align": "left", "baseline": "middle", "color": "#000000"},
 "encoding": {"x": {"datum": 8, "type": "quantitative"}, "y": {"field": "s", "type": "nominal"}, "text": {"field": "s"}}}
]}
],
"config": {
"font": "DejaVu Sans",
"view": {"stroke": null},
"axis": {"grid": false, "domain": false, "ticks": true, "tickSize": 2.5, "tickColor": "#555555", "labelFont": "DejaVu Sans", "labelFontSize": 12, "labelFontWeight": "bold", "labelColor": "#000000", "labelPadding": 1, "labelOverlap": false, "labelFlush": false, "titleFont": "DejaVu Sans", "titleFontSize": 14, "titleFontWeight": "bold", "titleColor": "#000000"}
}
}
